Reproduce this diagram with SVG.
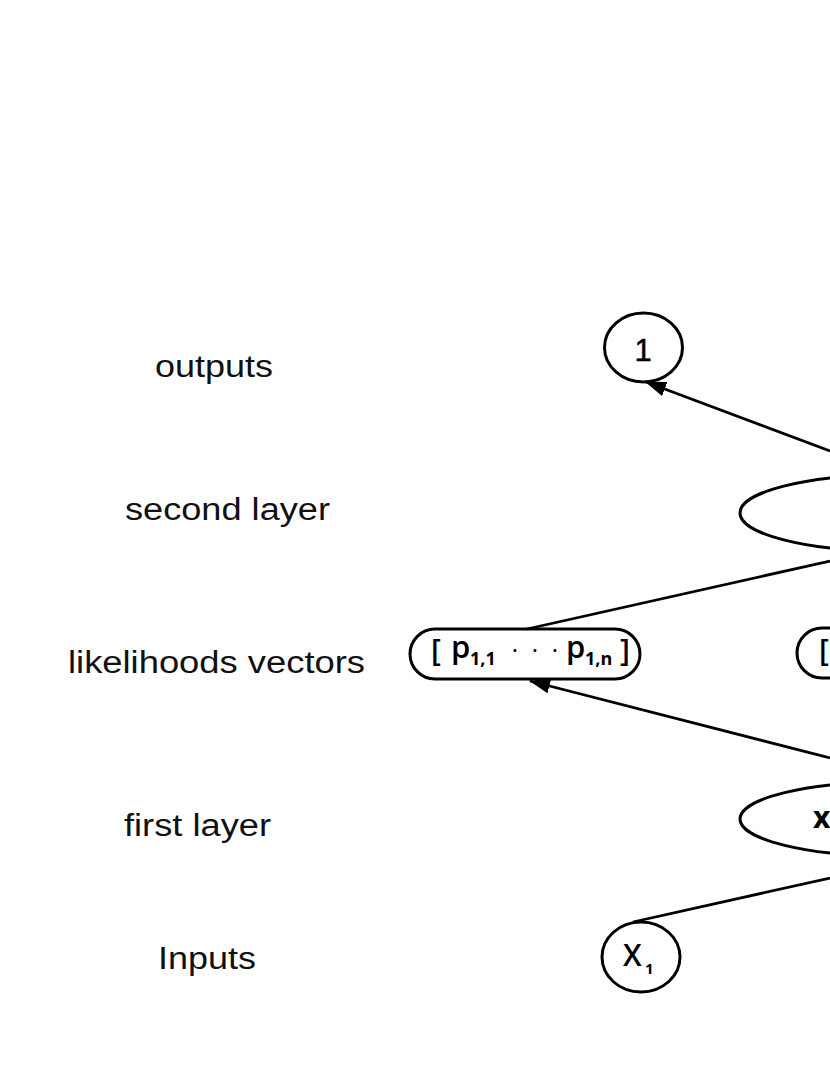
<svg xmlns="http://www.w3.org/2000/svg" width="830" height="1075" viewBox="0 0 830 1075">
<style>
.lbl{font-family:"Liberation Sans",Arial,sans-serif;font-size:31px;fill:#111}
.shape{fill:none;stroke:#000;stroke-width:3}
.edge{fill:none;stroke:#000;stroke-width:2.8}
.nt{font-family:"Open Sans","Liberation Sans",sans-serif;font-weight:600;fill:#000}
</style>
<defs>
<marker id="arr" markerWidth="22" markerHeight="16" refX="20" refY="7.5" orient="auto" markerUnits="userSpaceOnUse">
<path d="M0,0 L21,7.5 L0,15 Z" fill="#000"/>
</marker>
</defs>
<rect width="830" height="1075" fill="#fff"/>
<g id="labels">
<text class="lbl" x="155" y="377" textLength="118" lengthAdjust="spacingAndGlyphs">outputs</text>
<text class="lbl" x="125" y="520" textLength="205" lengthAdjust="spacingAndGlyphs">second layer</text>
<text class="lbl" x="68" y="673" textLength="297" lengthAdjust="spacingAndGlyphs">likelihoods vectors</text>
<text class="lbl" x="124" y="836" textLength="147" lengthAdjust="spacingAndGlyphs">first layer</text>
<text class="lbl" x="158" y="969" textLength="98" lengthAdjust="spacingAndGlyphs">Inputs</text>
</g>
<g id="connectors">
<line class="edge" x1="830" y1="451" x2="646" y2="382" marker-end="url(#arr)"/>
<line class="edge" x1="830" y1="561" x2="527" y2="629"/>
<line class="edge" x1="830" y1="758" x2="530" y2="681" marker-end="url(#arr)"/>
<line class="edge" x1="830" y1="878" x2="633" y2="922"/>
</g>
<g id="output1">
<ellipse class="shape" cx="643.5" cy="347.5" rx="39" ry="34.5"/>
<text x="643" y="361" text-anchor="middle" style="font-family:'Liberation Sans',Arial,sans-serif;font-size:31px;stroke:#000;stroke-width:0.5">1</text>
</g>
<g id="second-layer">
<ellipse class="shape" cx="889" cy="513" rx="149" ry="38"/>
</g>
<g id="pvec1">
<rect class="shape" x="410" y="629" width="230" height="50" rx="25" ry="25"/>
<text class="nt" x="431" y="661" style="font-size:30px">[</text>
<text class="nt" x="451" y="658" style="font-size:31px">p</text>
<text class="nt" x="470" y="665" style="font-size:18px;font-weight:700">1,1</text>
<text class="nt" x="515" y="659" text-anchor="middle" style="font-size:24px;font-weight:400">·</text>
<text class="nt" x="535" y="659" text-anchor="middle" style="font-size:24px;font-weight:400">·</text>
<text class="nt" x="555" y="659" text-anchor="middle" style="font-size:24px;font-weight:400">·</text>
<text class="nt" x="566" y="658" style="font-size:31px">p</text>
<text class="nt" x="585" y="665" style="font-size:18px;font-weight:700">1,n</text>
<text class="nt" x="620" y="661" style="font-size:30px">]</text>
</g>
<g id="pvec2">
<rect class="shape" x="797" y="628" width="230" height="50" rx="25" ry="25"/>
<text class="nt" x="819" y="661" style="font-size:30px">[</text>
</g>
<g id="first-layer">
<ellipse class="shape" cx="889" cy="819" rx="149" ry="37"/>
<text class="nt" x="813" y="828" style="font-size:30px;font-weight:700">x</text>
</g>
<g id="input1">
<ellipse class="shape" cx="641" cy="957" rx="39" ry="35"/>
<text class="nt" x="623" y="966" style="font-size:30px;font-weight:600">X</text>
<text class="nt" x="645" y="974" style="font-size:15px;font-weight:700">1</text>
</g>
</svg>
